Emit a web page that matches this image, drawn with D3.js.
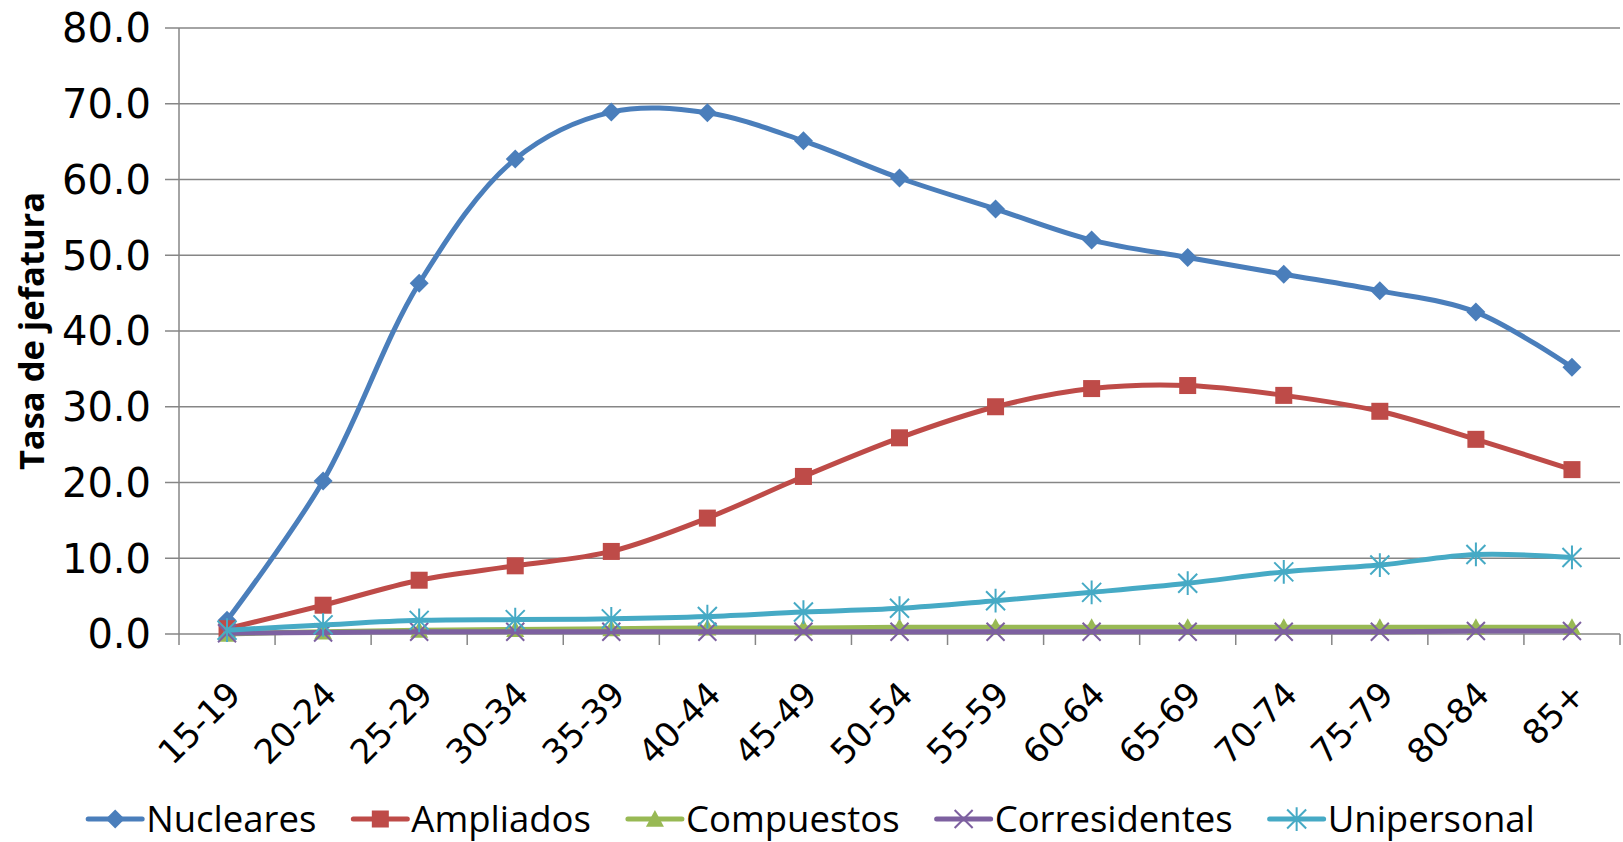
<!DOCTYPE html>
<html>
<head>
<meta charset="utf-8">
<script src="https://cdn.jsdelivr.net/npm/d3@7"></script>
<style>
  body { margin: 0; background: #fff; }
  svg { display: block; }
</style>
</head>
<body>
<svg width="1623" height="842"></svg>
<script>
const width = 1623,
    height = 842;

// age groups
const ages = ["15-19", "20-24", "25-29", "30-34", "35-39", "40-44", "45-49", "50-54",
    "55-59", "60-64", "65-69", "70-74", "75-79", "80-84", "85+"];

// tasa de jefatura por tipo de hogar
const nucleares = [1.8, 20.2, 46.3, 62.7, 68.9, 68.8, 65.1, 60.2, 56.1, 52.0, 49.7, 47.5, 45.3, 42.5, 35.2];
const ampliados = [0.7, 3.8, 7.1, 9.0, 10.9, 15.3, 20.8, 25.9, 30.0, 32.4, 32.8, 31.5, 29.4, 25.7, 21.7];
const compuestos = [0.0, 0.3, 0.5, 0.6, 0.7, 0.8, 0.8, 0.9, 0.9, 0.9, 0.9, 0.9, 0.9, 0.9, 0.9];
const corresidentes = [0.1, 0.2, 0.3, 0.3, 0.3, 0.3, 0.3, 0.3, 0.3, 0.3, 0.3, 0.3, 0.3, 0.4, 0.4];
const unipersonal = [0.5, 1.2, 1.8, 1.9, 2.0, 2.3, 2.9, 3.4, 4.4, 5.5, 6.7, 8.2, 9.1, 10.5, 10.1];

const yTicks = [0, 10, 20, 30, 40, 50, 60, 70, 80];

const series = [
    { name: "Nucleares", values: nucleares, color: "#4A7EBB", marker: "diamond" },
    { name: "Ampliados", values: ampliados, color: "#BE4B48", marker: "square" },
    { name: "Compuestos", values: compuestos, color: "#98B954", marker: "triangle" },
    { name: "Corresidentes", values: corresidentes, color: "#7D60A0", marker: "x" },
    { name: "Unipersonal", values: unipersonal, color: "#46AAC5", marker: "star" }
];

const margin = { top: 28, right: 3, bottom: 208, left: 179 };

const svg = d3.select("svg");

const x = d3.scaleBand()
    .domain(ages)
    .range([margin.left, width - margin.right]);

const y = d3.scaleLinear()
    .domain([0, 80])
    .range([height - margin.bottom, margin.top]);

const gridColor = "#868686";

// horizontal gridlines (with tick stubs to the left)
svg.append("g")
    .selectAll("line")
    .data(yTicks)
    .enter().append("line")
    .attr("x1", margin.left - 14)
    .attr("x2", width - margin.right)
    .attr("y1", d => y(d))
    .attr("y2", d => y(d))
    .attr("stroke", gridColor)
    .attr("stroke-width", 1.5);

// y axis line
svg.append("line")
    .attr("x1", margin.left).attr("x2", margin.left)
    .attr("y1", y(80)).attr("y2", y(0))
    .attr("stroke", gridColor)
    .attr("stroke-width", 1.5);

// x tick marks at category boundaries
const bounds = ages.map(d => x(d)).concat([x.range()[1]]);
svg.append("g")
    .selectAll("line")
    .data(bounds)
    .enter().append("line")
    .attr("x1", d => d).attr("x2", d => d)
    .attr("y1", y(0)).attr("y2", y(0) + 11)
    .attr("stroke", gridColor)
    .attr("stroke-width", 1.5);

// y tick labels
svg.append("g")
    .selectAll("text")
    .data(yTicks)
    .enter().append("text")
    .attr("x", margin.left - 28)
    .attr("y", d => y(d))
    .attr("dy", "0.36em")
    .attr("text-anchor", "end")
    .style("font-family", "'DejaVu Sans', Verdana, sans-serif")
    .style("font-size", "40px")
    .style("fill", "#000")
    .text(d => d3.format(".1f")(d));

// x tick labels, rotated
const cx = d => x(d) + x.bandwidth() / 2;
svg.append("g")
    .selectAll("text")
    .data(ages)
    .enter().append("text")
    .attr("transform", d => "translate(" + (cx(d) + 7) + "," + (y(0) + 54) + ") rotate(-45)")
    .attr("text-anchor", "end")
    .attr("dy", "0.35em")
    .style("font-family", "'DejaVu Sans', Verdana, sans-serif")
    .style("font-size", "34px")
    .style("fill", "#000")
    .text(d => d);

// y axis title
svg.append("text")
    .attr("transform", "translate(44," + ((y(0) + y(80)) / 2) + ") rotate(-90)")
    .attr("text-anchor", "middle")
    .style("font-family", "'Open Sans', sans-serif")
    .style("font-weight", "bold")
    .style("font-size", "34.5px")
    .style("fill", "#000")
    .text("Tasa de jefatura");

// marker shapes
function drawMarker(sel, type, color, s) {
    if (type === "diamond") {
        sel.append("path")
            .attr("d", `M0,${-s}L${s},0L0,${s}L${-s},0Z`)
            .attr("fill", color);
    } else if (type === "square") {
        sel.append("rect")
            .attr("x", -s).attr("y", -s)
            .attr("width", 2 * s).attr("height", 2 * s)
            .attr("fill", color);
    } else if (type === "triangle") {
        sel.append("path")
            .attr("d", `M0,${-s}L${s},${s * 0.85}L${-s},${s * 0.85}Z`)
            .attr("fill", color);
    } else if (type === "x") {
        sel.append("path")
            .attr("d", `M${-s},${-s}L${s},${s}M${-s},${s}L${s},${-s}`)
            .attr("stroke", color)
            .attr("stroke-width", 2);
    } else if (type === "star") {
        sel.append("path")
            .attr("d", `M${-s},${-s}L${s},${s}M${-s},${s}L${s},${-s}M0,${-s * 1.25}L0,${s * 1.25}`)
            .attr("stroke", color)
            .attr("stroke-width", 2);
    }
}

const markerSize = { diamond: 9.5, square: 8.5, triangle: 9, x: 9, star: 9.5 };

const line = d3.line()
    .x((d, i) => cx(ages[i]))
    .y(d => y(d))
    .curve(d3.curveCatmullRom.alpha(0.5));

series.forEach(s => {
    const g = svg.append("g");
    g.append("path")
        .datum(s.values)
        .attr("d", line)
        .attr("fill", "none")
        .attr("stroke", s.color)
        .attr("stroke-width", 5)
        .attr("stroke-linejoin", "round");

    g.selectAll("g.m")
        .data(s.values)
        .enter().append("g")
        .attr("class", "m")
        .attr("transform", (d, i) => "translate(" + cx(ages[i]) + "," + y(d) + ")")
        .each(function () { drawMarker(d3.select(this), s.marker, s.color, markerSize[s.marker]); });
});

// legend, centred
const legend = svg.append("g");
const legY = 819;
const items = legend.selectAll("g.item")
    .data(series)
    .enter().append("g")
    .attr("class", "item");

items.append("line")
    .attr("x1", 0).attr("x2", 54)
    .attr("y1", 0).attr("y2", 0)
    .attr("stroke", d => d.color)
    .attr("stroke-width", 5)
    .attr("stroke-linecap", "round");

items.append("g")
    .attr("transform", "translate(27,0)")
    .each(function (d) { drawMarker(d3.select(this), d.marker, d.color, markerSize[d.marker]); });

items.append("text")
    .attr("x", 58)
    .attr("dy", "0.35em")
    .style("font-family", "'Open Sans', sans-serif")
    .style("font-size", "36.5px")
    .style("fill", "#000")
    .text(d => d.name);

let offset = 0;
const positions = [];
items.each(function () {
    positions.push(offset);
    const w = 58 + d3.select(this).select("text").node().getComputedTextLength();
    offset += w + 37;
});
const total = offset - 37;
const start = (width - total) / 2;
items.attr("transform", (d, i) => "translate(" + (start + positions[i]) + "," + legY + ")");
</script>
</body>
</html>
